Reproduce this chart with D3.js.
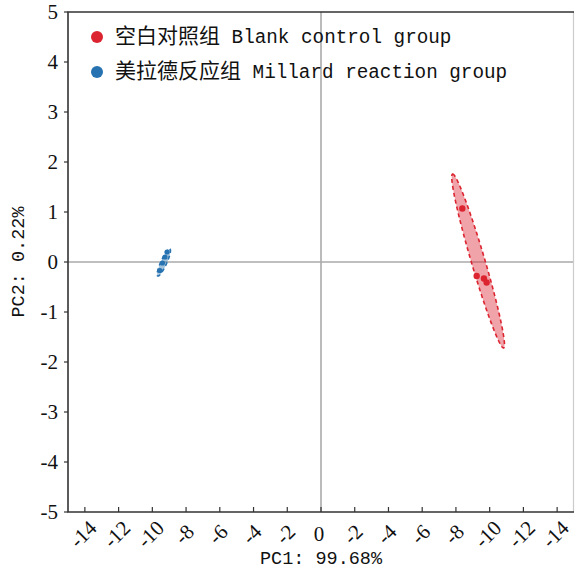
<!DOCTYPE html>
<html>
<head>
<meta charset="utf-8">
<script src="https://cdn.jsdelivr.net/npm/d3@7"></script>
<style>
  body { margin: 0; background: #fff; }
  svg text { fill: #111; }
</style>
</head>
<body>
<div id="chart"></div>
<script>
// data
var groups = ["空白对照组", "美拉德反应组"];
var groupsEn = ["Blank control group", "Millard reaction group"];
var colors = ["#dc2430", "#2772b0"];
var redX = [8.38, 9.23, 9.66, 9.82];
var redY = [1.07, -0.28, -0.33, -0.41];
var blueX = [-9.55, -9.4, -9.25, -9.13];
var blueY = [-0.17, -0.02, 0.1, 0.2];
// ellipse: center x, center y, half major vector dx, dy, minor/major ratio
var redEllipse = [9.315, 0.02, -1.515, 1.74, 0.075];
var blueEllipse = [-9.32, -0.01, 0.36, 0.27, 0.2];
var xTicks = [-14, -12, -10, -8, -6, -4, -2, 0, 2, 4, 6, 8, 10, 12, 14];
var xTickLabels = ["-14", "-12", "-10", "-8", "-6", "-4", "-2", "0", "-2", "-4", "-6", "-8", "-10", "-12", "-14"];
var yTicks = [-5, -4, -3, -2, -1, 0, 1, 2, 3, 4, 5];

var W = 575, H = 576;
var margin = {top: 12, right: 1, bottom: 64, left: 68};

var svg = d3.select("#chart").append("svg")
    .attr("width", W)
    .attr("height", H);

var x = d3.scaleLinear().domain([-15, 15]).range([margin.left, W - margin.right]);
var y = d3.scaleLinear().domain([-5, 5]).range([H - margin.bottom, margin.top]);

// zero lines
svg.append("line")
    .attr("x1", x(0)).attr("x2", x(0))
    .attr("y1", y(5)).attr("y2", y(-5))
    .attr("stroke", "#aaa").attr("stroke-width", 1.6);
svg.append("line")
    .attr("x1", x(-15)).attr("x2", x(15))
    .attr("y1", y(0)).attr("y2", y(0))
    .attr("stroke", "#aaa").attr("stroke-width", 1.6);

function ellipsePath(e){
    var cx = x(e[0]), cy = y(e[1]);
    var ux = x(e[0] + e[2]) - cx, uy = y(e[1] + e[3]) - cy;
    var vx = -uy * e[4], vy = ux * e[4];
    var pts = [];
    for(var i = 0; i <= 120; i++){
        var t = i / 120 * 2 * Math.PI;
        pts.push([cx + ux*Math.cos(t) + vx*Math.sin(t), cy + uy*Math.cos(t) + vy*Math.sin(t)]);
    }
    return d3.line()(pts) + "Z";
}

var sets = [
    {e: redEllipse, xs: redX, ys: redY, c: colors[0], r: 3.2},
    {e: blueEllipse, xs: blueX, ys: blueY, c: colors[1], r: 2.6}
];
sets.forEach(function(s){
    svg.append("path")
        .attr("d", ellipsePath(s.e))
        .attr("fill", s.c).attr("fill-opacity", 0.42)
        .attr("stroke", s.c).attr("stroke-width", 1.6)
        .attr("stroke-dasharray", "4,3");
    svg.selectAll(null)
        .data(d3.range(s.xs.length))
        .enter().append("circle")
        .attr("cx", function(i){ return x(s.xs[i]); })
        .attr("cy", function(i){ return y(s.ys[i]); })
        .attr("r", s.r)
        .attr("fill", s.c);
});

// frame
svg.append("line")
    .attr("x1", W - 1.5).attr("x2", W - 1.5)
    .attr("y1", y(5)).attr("y2", y(-5))
    .attr("stroke", "#ccc").attr("stroke-width", 1.2);
svg.append("path")
    .attr("d", "M" + (W - 1) + "," + y(5) + "H" + x(-15) + "V" + y(-5) + "H" + (W - 1))
    .attr("fill", "none").attr("stroke", "#333").attr("stroke-width", 1.6);

// y axis
var ya = svg.append("g");
yTicks.forEach(function(t){
    ya.append("line")
        .attr("x1", x(-15) - 4).attr("x2", x(-15))
        .attr("y1", y(t)).attr("y2", y(t))
        .attr("stroke", "#333").attr("stroke-width", 1.2);
    ya.append("text")
        .attr("x", x(-15) - 10).attr("y", y(t))
        .attr("dy", "0.35em")
        .attr("text-anchor", "end")
        .attr("font-family", "Liberation Serif, serif")
        .attr("font-size", 21)
        .text(t);
});

// x axis
var xa = svg.append("g");
xTicks.forEach(function(t, i){
    xa.append("line")
        .attr("x1", x(t)).attr("x2", x(t))
        .attr("y1", y(-5) - 5).attr("y2", y(-5))
        .attr("stroke", "#333").attr("stroke-width", 1.2);
    var lx = x(t) - 2, ly = y(-5) + 22;
    xa.append("text")
        .attr("transform", "translate(" + lx + "," + ly + ") rotate(" + (t === 0 ? 0 : -45) + ")")
        .attr("dy", "0.35em")
        .attr("text-anchor", "middle")
        .attr("font-family", "Liberation Serif, serif")
        .attr("font-size", 21)
        .text(xTickLabels[i]);
});

// axis titles
svg.append("text")
    .attr("x", x(0)).attr("y", 558)
    .attr("dy", "0.35em")
    .attr("text-anchor", "middle")
    .attr("font-family", "Liberation Mono, monospace")
    .attr("font-size", 18.5)
    .text("PC1: 99.68%");
svg.append("text")
    .attr("transform", "translate(18," + y(0) + ") rotate(-90)")
    .attr("dy", "0.35em")
    .attr("text-anchor", "middle")
    .attr("font-family", "Liberation Mono, monospace")
    .attr("font-size", 18.5)
    .text("PC2: 0.22%");

// legend
groups.forEach(function(g, i){
    var ly = 37 + i * 35;
    svg.append("circle")
        .attr("cx", 97).attr("cy", ly).attr("r", 6)
        .attr("fill", colors[i]);
    var t = svg.append("text")
        .attr("x", 115).attr("y", ly)
        .attr("dy", "0.38em");
    t.append("tspan")
        .attr("font-family", "Noto Sans CJK SC")
        .attr("font-size", 21)
        .text(g);
    t.append("tspan")
        .attr("font-family", "Liberation Mono, monospace")
        .attr("font-size", 19.3)
        .attr("xml:space", "preserve")
        .text(" " + groupsEn[i]);
});
</script>
</body>
</html>
